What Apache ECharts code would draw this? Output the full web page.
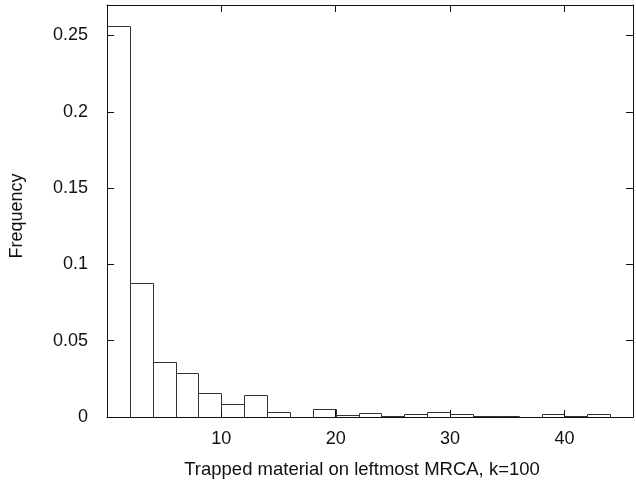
<!DOCTYPE html>
<html>
<head>
<meta charset="utf-8">
<script src="https://cdn.jsdelivr.net/npm/echarts@6/dist/echarts.min.js"></script>
<style>
  html, body { margin: 0; background: #fff; }
  #c { width: 636px; height: 487px; }
</style>
</head>
<body>
<div id="c"></div>
<script>
// histogram bins (width 2) and their frequencies
const binLo = [0, 2, 4, 6, 8, 10, 12, 14, 16, 18, 20, 22, 24, 26, 28, 30, 32, 34, 36, 38, 40, 42, 44];
const binHi = [2, 4, 6, 8, 10, 12, 14, 16, 18, 20, 22, 24, 26, 28, 30, 32, 34, 36, 38, 40, 42, 44, 46];
const freq = [0.256, 0.088, 0.036, 0.029, 0.016, 0.0085, 0.0145, 0.0035, 0, 0.0055, 0.0013, 0.0027,
  0.0008, 0.002, 0.003, 0.0022, 0.0009, 0.0006, 0, 0.0017, 0.0006, 0.002, 0];
const xTicks = [10, 20, 30, 40];
const yTicks = [0, 0.05, 0.1, 0.15, 0.2, 0.25];
const xName = "Trapped material on leftmost MRCA, k=100";
const yName = "Frequency";

(() => {
  "use strict";
  const FONT = "'Liberation Sans', Arial, sans-serif";
  const INK = "#111";
  const has = (arr, v) => arr.some(t => Math.abs(t - v) < 1e-9);
  const chart = echarts.init(document.getElementById("c"), null, { renderer: "canvas" });

  // every side of the box is an axis: line + inward ticks, labels only bottom/left
  // z above the series so ticks show over the white bars
  const frameAxis = extra => Object.assign({
    z: 5,
    axisLine: { show: true, onZero: false, lineStyle: { color: INK, width: 1 } },
    axisTick: { show: true, inside: true, length: 7, lineStyle: { color: INK } },
    splitLine: { show: false },
  }, extra);

  chart.setOption({
    animation: false,
    backgroundColor: "#fff",
    grid: { left: 107, right: 1, top: 5, bottom: 70, containLabel: false },
    xAxis: [
      frameAxis({
        type: "value", position: "bottom", min: 0, max: 46, interval: 10,
        axisLabel: { margin: 13, color: INK, fontFamily: FONT, fontSize: 18,
          formatter: v => has(xTicks, v) ? String(v) : "" },
      }),
      frameAxis({
        type: "value", position: "top", min: 0, max: 46, interval: 10,
        axisLabel: { show: false },
      }),
    ],
    yAxis: [
      frameAxis({
        type: "value", position: "left", min: 0, max: 0.27, interval: 0.05,
        axisLabel: { margin: 19, color: INK, fontFamily: FONT, fontSize: 18,
          formatter: v => has(yTicks, v) ? String(+v.toFixed(2)) : "" },
      }),
      frameAxis({
        type: "value", position: "right", min: 0, max: 0.27, interval: 0.05,
        axisLabel: { show: false },
      }),
    ],
    series: [{
      type: "custom",
      xAxisIndex: 0,
      yAxisIndex: 0,
      z: 1,
      clip: true,
      data: binLo.map((lo, i) => [lo, binHi[i], freq[i]]),
      renderItem: (params, api) => {
        if (!(api.value(2) > 0)) return null;
        const p0 = api.coord([api.value(0), api.value(2)]);
        const p1 = api.coord([api.value(1), 0]);
        return {
          type: "rect",
          shape: { x: Math.round(p0[0]) + 0.5, y: Math.round(p0[1]) + 0.5,
            width: Math.round(p1[0]) - Math.round(p0[0]), height: Math.round(p1[1]) - Math.round(p0[1]) },
          style: { fill: "#fff", stroke: "#333", lineWidth: 1 },
        };
      },
    }],
    graphic: [
      { type: "text", x: 362, y: 470,
        style: { text: xName, fill: INK, font: "18.5px " + FONT, align: "center", verticalAlign: "middle" } },
      { type: "text", x: 17, y: 216, rotation: Math.PI / 2,
        style: { text: yName, fill: INK, font: "18px " + FONT, align: "center", verticalAlign: "middle" } },
    ],
  });
})();
</script>
</body>
</html>
